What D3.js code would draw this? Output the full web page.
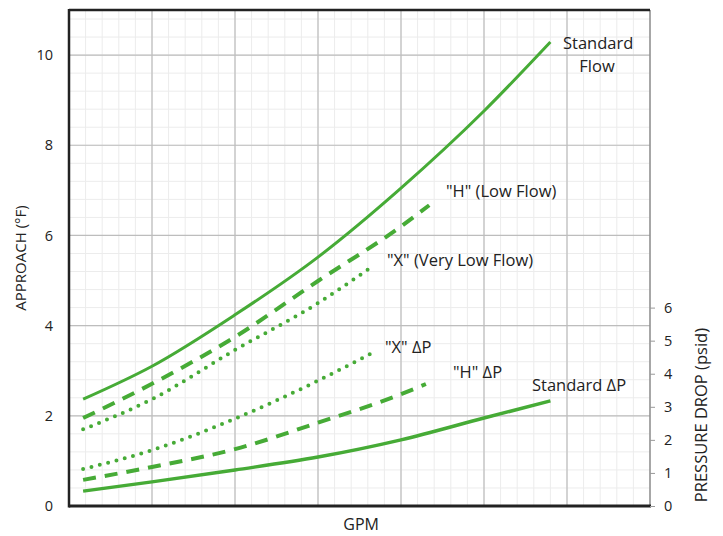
<!DOCTYPE html>
<html>
<head>
<meta charset="utf-8">
<script src="https://cdn.jsdelivr.net/npm/d3@7"></script>
<style>
  body { margin: 0; background: #fff; }
  text { font-family: "Open Sans", "Liberation Sans", sans-serif; fill: #222; }
</style>
</head>
<body>
<svg width="723" height="536"></svg>
<script>
// GPM positions are in grid divisions (no GPM numbers on the chart)
var flowStdX = [0.17, 1, 2, 3, 4, 5, 5.8];
var flowStdY = [2.37, 3.10, 4.24, 5.52, 7.05, 8.76, 10.29];
var flowHX = [0.17, 1, 2, 3, 4, 4.34];
var flowHY = [1.95, 2.71, 3.75, 4.99, 6.20, 6.67];
var flowXX = [0.17, 1, 2, 3, 3.63];
var flowXY = [1.70, 2.37, 3.46, 4.50, 5.28];

var dpStdX = [0.17, 1, 2, 3, 4, 5, 5.8];
var dpStdY = [0.45, 0.73, 1.09, 1.48, 2.00, 2.66, 3.18];
var dpHX = [0.17, 1, 2, 3, 4, 4.30];
var dpHY = [0.79, 1.18, 1.72, 2.52, 3.38, 3.69];
var dpXX = [0.17, 1, 2, 3, 3.63];
var dpXY = [1.12, 1.69, 2.64, 3.79, 4.60];

var leftTicks = [0, 2, 4, 6, 8, 10];
var rightTicks = [0, 1, 2, 3, 4, 5, 6];

var svg = d3.select("svg"),
    margin = {top: 10, right: 73, bottom: 30, left: 69},
    width = +svg.attr("width") - margin.left - margin.right,
    height = +svg.attr("height") - margin.top - margin.bottom;

var g = svg.append("g").attr("transform", "translate(" + margin.left + "," + margin.top + ")");

var x = d3.scaleLinear().domain([0, 7]).range([0, width]);
var yL = d3.scaleLinear().domain([0, 11]).range([height, 0]);
var yR = d3.scaleLinear().domain([0, 15]).range([height, 0]);

// minor grid
g.append("g").selectAll("line")
  .data(d3.range(0, 7.01, 0.2))
  .enter().append("line")
  .attr("x1", function(d) { return x(d); }).attr("x2", function(d) { return x(d); })
  .attr("y1", 0).attr("y2", height)
  .attr("stroke", "#ececec").attr("stroke-width", 1);
g.append("g").selectAll("line")
  .data(d3.range(0, 11.01, 0.4))
  .enter().append("line")
  .attr("y1", function(d) { return yL(d); }).attr("y2", function(d) { return yL(d); })
  .attr("x1", 0).attr("x2", width)
  .attr("stroke", "#ececec").attr("stroke-width", 1);

// major grid
g.append("g").selectAll("line")
  .data(d3.range(1, 7))
  .enter().append("line")
  .attr("x1", function(d) { return x(d); }).attr("x2", function(d) { return x(d); })
  .attr("y1", 0).attr("y2", height)
  .attr("stroke", "#bdbdbd").attr("stroke-width", 1.2);
g.append("g").selectAll("line")
  .data(leftTicks.slice(1))
  .enter().append("line")
  .attr("y1", function(d) { return yL(d); }).attr("y2", function(d) { return yL(d); })
  .attr("x1", 0).attr("x2", width)
  .attr("stroke", "#bdbdbd").attr("stroke-width", 1.2);

// frame
g.append("line").attr("x1", width).attr("x2", width).attr("y1", 0).attr("y2", height)
  .attr("stroke", "#8c8c8c").attr("stroke-width", 1.5);
g.append("line").attr("x1", 0).attr("x2", width).attr("y1", 0).attr("y2", 0)
  .attr("stroke", "#222").attr("stroke-width", 2.5);
g.append("line").attr("x1", 0).attr("x2", width + 1).attr("y1", height).attr("y2", height)
  .attr("stroke", "#222").attr("stroke-width", 3);
g.append("line").attr("x1", 0).attr("x2", 0).attr("y1", -1).attr("y2", height + 1.5)
  .attr("stroke", "#222").attr("stroke-width", 2.5);

// left axis
var leftAxis = d3.axisLeft(yL).tickValues(leftTicks).tickSize(0).tickPadding(16);
var la = g.append("g").call(leftAxis);
la.select(".domain").remove();
la.selectAll("text").style("font-size", "14.5px").attr("fill", "#333");

// right axis
var rightAxis = d3.axisRight(yR).tickValues(rightTicks).tickSize(5).tickPadding(9);
var ra = g.append("g").attr("transform", "translate(" + width + ",0)").call(rightAxis);
ra.select(".domain").remove();
ra.selectAll("line").attr("stroke", "#999");
ra.selectAll("text").style("font-size", "14.5px").attr("fill", "#333");

// axis titles
svg.append("text")
  .attr("transform", "translate(26," + (margin.top + yL(5.5)) + ") rotate(-90)")
  .attr("text-anchor", "middle").style("font-size", "15px").text("APPROACH (°F)");
svg.append("text")
  .attr("transform", "translate(707," + (margin.top + yR(2.75)) + ") rotate(-90)")
  .attr("text-anchor", "middle").style("font-size", "16.5px").text("PRESSURE DROP (psid)");
svg.append("text")
  .attr("x", margin.left + x(3.52)).attr("y", 530)
  .attr("text-anchor", "middle").style("font-size", "16px").text("GPM");

// series
var green = "#46ab36";
function pts(xs, ys) { return xs.map(function(v, i) { return [v, ys[i]]; }); }

var series = [
  {d: pts(flowStdX, flowStdY), y: yL, dash: null, w: 3},
  {d: pts(flowHX, flowHY), y: yL, dash: "13,9", w: 4},
  {d: pts(flowXX, flowXY), y: yL, dash: "0,8.6", w: 4},
  {d: pts(dpStdX, dpStdY), y: yR, dash: null, w: 3.5},
  {d: pts(dpHX, dpHY), y: yR, dash: "13,9", w: 4},
  {d: pts(dpXX, dpXY), y: yR, dash: "0,8.6", w: 4}
];

series.forEach(function(s) {
  var line = d3.line()
    .x(function(d) { return x(d[0]); })
    .y(function(d) { return s.y(d[1]); })
    .curve(d3.curveMonotoneX);
  g.append("path")
    .datum(s.d)
    .attr("d", line)
    .attr("fill", "none")
    .attr("stroke", green)
    .attr("stroke-width", s.w)
    .attr("stroke-linecap", s.dash && s.dash.charAt(0) == "0" ? "round" : "butt")
    .attr("stroke-dasharray", s.dash);
});

// curve labels
function lab(px, py, t, anchor) {
  svg.append("text").attr("x", px).attr("y", py)
    .attr("text-anchor", anchor || "start")
    .style("font-size", "16.5px").text(t);
}
lab(563, 49, "Standard");
lab(597, 72, "Flow", "middle");
lab(446, 197, "\"H\" (Low Flow)");
lab(387, 266, "\"X\" (Very Low Flow)");
lab(385, 353, "\"X\" ΔP");
lab(453, 378, "\"H\" ΔP");
lab(532, 391, "Standard ΔP");
</script>
</body>
</html>
